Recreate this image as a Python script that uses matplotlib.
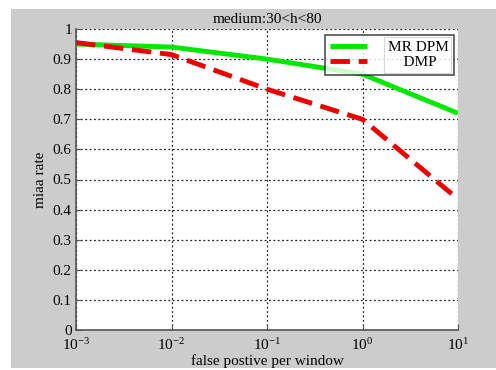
import matplotlib
matplotlib.use("Agg")
import matplotlib.pyplot as plt
from matplotlib.patches import Rectangle
from matplotlib.transforms import Bbox

x_vals = [1e-3, 1e-2, 1e-1, 1e0, 1e1]
mr_dpm = [0.95, 0.94, 0.90, 0.85, 0.72]
dmp = [0.955, 0.915, 0.80, 0.70, 0.435]
y_ticks = [0, 0.1, 0.2, 0.3, 0.4, 0.5, 0.6, 0.7, 0.8, 0.9, 1]
y_labels = ["0", "0.1", "0.2", "0.3", "0.4", "0.5", "0.6", "0.7", "0.8", "0.9", "1"]
x_labels = [r"$\mathregular{10^{-3}}$", r"$\mathregular{10^{-2}}$", r"$\mathregular{10^{-1}}$",
            r"$\mathregular{10^{0}}$", r"$\mathregular{10^{1}}$"]
series_names = ["MR DPM", "DMP"]

plt.rcParams['font.family'] = ['Liberation Serif', 'DejaVu Serif']
plt.rcParams['mathtext.fontset'] = 'custom'
plt.rcParams['mathtext.rm'] = 'Liberation Serif'

W, H = 496, 370
fig = plt.figure(figsize=(W/100, H/100), dpi=100)
fig.patch.set_facecolor('white')
fig.patches.append(Rectangle((11/W, 2/H), 1 - 11/W, (H - 9 - 2)/H,
                             transform=fig.transFigure, facecolor='#cccccc',
                             edgecolor='none', zorder=-10))

ax = fig.add_axes([76/W, (H-330)/H, (458-76)/W, (330-29)/H])
ax.set_facecolor('white')
ax.plot(x_vals, mr_dpm, color='#00e800', lw=3.5, label=series_names[0],
        solid_capstyle='butt')
ax.plot(x_vals, dmp, color='#ee0000', lw=3.5, ls=(0, (4, 1.8)),
        label="    " + series_names[1])
ax.set_xscale('log')
ax.set_xlim(1e-3, 1e1)
ax.set_ylim(0, 1)
ax.set_xticks(x_vals)
ax.set_xticklabels(x_labels)
ax.minorticks_off()
ax.set_yticks(y_ticks)
ax.set_yticklabels(y_labels)
ax.tick_params(direction='in', length=4, color='#555555', labelsize=11)
ax.tick_params(axis='x', pad=5)
ax.tick_params(axis='y', pad=3)
ax.grid(True, color='#222222', ls=(0, (1.5, 2)), lw=0.9)
for s in ['top', 'right']:
    ax.spines[s].set_visible(False)
for s in ['left', 'bottom']:
    ax.spines[s].set_color('#555555')
    ax.spines[s].set_linewidth(1.2)
ax.set_title('medium:30<h<80', fontsize=11, pad=4)
ax.set_xlabel('false postive per window', fontsize=11, labelpad=1)
ax.set_ylabel('miaa rate', fontsize=11, labelpad=4)

leg = ax.legend(loc='upper right', bbox_to_anchor=(0.99, 0.98), fontsize=11,
                frameon=True, fancybox=False, edgecolor='#222222',
                handlelength=2.4, handletextpad=1.4, borderpad=0.35,
                labelspacing=0.1, borderaxespad=0)
leg.get_frame().set_linewidth(1.2)

# inner light box around legend texts
fig.canvas.draw()
r = fig.canvas.get_renderer()
bbs = [t.get_window_extent(r) for t in leg.get_texts()]
u = Bbox.union(bbs)
lb = leg.get_window_extent(r)
inner = Rectangle((u.x0 - 4, lb.y0 + 2), lb.x1 - 3 - (u.x0 - 4), lb.height - 4,
                  transform=None, facecolor='none', edgecolor='#d8d8d8', lw=0.8,
                  zorder=10)
fig.patches.append(inner)

fig.savefig('out.png', dpi=100, facecolor=fig.get_facecolor())
